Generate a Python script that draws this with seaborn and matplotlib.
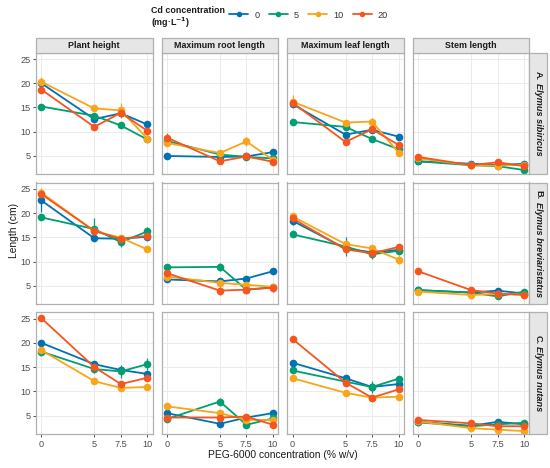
import numpy as np
import pandas as pd
import matplotlib
matplotlib.use('Agg')
import matplotlib.pyplot as plt
import seaborn as sns
from matplotlib.lines import Line2D
from matplotlib.patches import Rectangle

# PEG-6000 concentration (% w/v) and Cd levels (mg/L)
peg = [0, 5, 7.5, 10]
cd_levels = ['0', '5', '10', '20']
cd_colors = ['#0072B2', '#009E73', '#F9A51B', '#F4561E']
traits = ['Plant height', 'Maximum root length', 'Maximum leaf length', 'Stem length']
species_prefix = ['A.', 'B.', 'C.']
species_names = ['Elymus sibiricus', 'Elymus breviaristatus', 'Elymus nutans']

# each array: one row per Cd level (0, 5, 10, 20), one column per PEG level
sib_height = [[20.0, 12.6, 13.8, 11.5], [15.2, 13.3, 11.3, 8.4], [20.3, 14.8, 14.4, 8.6], [18.7, 11.0, 13.9, 10.2]]
sib_root = [[5.0, 4.8, 4.9, 5.8], [8.1, 5.3, 4.8, 4.5], [7.7, 5.6, 8.0, 4.2], [8.8, 3.9, 4.9, 3.8]]
sib_leaf = [[15.7, 9.4, 10.4, 9.0], [12.0, 11.0, 8.5, 6.4], [16.2, 11.9, 12.1, 5.7], [16.0, 7.9, 10.5, 7.3]]
sib_stem = [[3.9, 3.4, 3.1, 3.4], [3.9, 3.1, 2.9, 2.1], [4.5, 3.1, 3.0, 3.2], [4.8, 3.1, 3.7, 2.9]]

brev_height = [[22.6, 14.8, 14.7, 15.1], [19.1, 16.7, 14.0, 16.2], [24.2, 16.3, 14.9, 12.5], [23.9, 16.3, 14.7, 15.3]]
brev_root = [[6.3, 5.9, 6.5, 8.0], [8.8, 8.9, 4.2, 4.7], [6.9, 5.6, 5.2, 4.8], [7.6, 4.0, 4.2, 4.6]]
brev_leaf = [[18.4, 12.7, 11.9, 12.4], [15.6, 13.1, 11.5, 12.2], [19.3, 13.6, 12.7, 10.4], [18.9, 12.5, 11.7, 13.0]]
brev_stem = [[4.1, 3.6, 4.0, 3.4], [4.1, 3.6, 2.8, 3.8], [3.8, 3.1, 3.3, 3.2], [8.0, 4.1, 3.4, 3.1]]

nut_height = [[20.0, 15.6, 14.4, 13.6], [18.2, 14.6, 14.1, 15.6], [18.5, 12.1, 10.7, 10.9], [25.1, 15.0, 11.5, 12.8]]
nut_root = [[5.5, 3.3, 4.6, 5.5], [4.3, 7.9, 3.1, 4.4], [6.9, 5.5, 4.1, 4.1], [4.6, 4.6, 4.8, 3.1]]
nut_leaf = [[15.9, 12.7, 10.9, 11.5], [14.3, 12.0, 10.9, 12.6], [12.7, 9.7, 8.7, 8.9], [20.8, 11.8, 8.7, 10.4]]
nut_stem = [[3.7, 2.9, 3.7, 3.2], [3.6, 2.8, 3.2, 3.5], [3.8, 2.4, 2.1, 1.8], [4.1, 3.4, 2.8, 2.8]]

# standard errors, same layout
sib_height_se = [[0.3, 0.6, 0.5, 0.5], [0.4, 0.5, 0.3, 0.4], [1.0, 0.4, 1.6, 0.5], [0.4, 0.4, 0.8, 0.4]]
sib_root_se = [[0.2, 0.4, 0.8, 0.3], [0.4, 0.3, 0.3, 0.3], [0.6, 0.4, 1.0, 0.3], [1.0, 0.3, 0.5, 0.3]]
sib_leaf_se = [[0.4, 0.4, 0.6, 0.4], [0.5, 0.4, 0.4, 0.4], [1.4, 0.6, 0.7, 0.4], [0.5, 0.4, 0.8, 0.4]]
sib_stem_se = [[0.2, 0.2, 0.2, 0.3], [0.2, 0.2, 0.2, 0.2], [0.2, 0.2, 0.2, 0.2], [0.3, 0.2, 0.3, 0.3]]

brev_height_se = [[2.4, 0.6, 0.5, 0.4], [0.4, 2.3, 0.9, 1.0], [1.0, 0.5, 0.4, 0.4], [0.5, 0.5, 0.5, 0.4]]
brev_root_se = [[0.4, 0.3, 0.5, 0.4], [0.3, 0.8, 0.3, 0.3], [0.4, 0.5, 0.5, 0.5], [0.4, 0.8, 0.4, 0.8]]
brev_leaf_se = [[0.9, 0.5, 0.8, 0.4], [0.4, 2.0, 1.0, 0.5], [0.8, 0.5, 0.4, 1.0], [0.4, 0.5, 0.5, 0.4]]
brev_stem_se = [[0.2, 0.2, 0.3, 0.2], [0.2, 0.2, 0.2, 0.3], [0.2, 0.2, 0.2, 0.2], [0.3, 0.3, 0.2, 0.2]]

nut_height_se = [[0.6, 0.5, 0.5, 0.4], [0.5, 0.8, 1.4, 1.2], [1.2, 0.4, 0.4, 0.4], [0.3, 1.0, 0.5, 0.6]]
nut_root_se = [[0.3, 0.3, 0.3, 0.3], [0.3, 0.7, 0.3, 0.3], [0.3, 0.7, 0.4, 0.3], [0.3, 0.4, 0.4, 0.3]]
nut_leaf_se = [[0.5, 0.5, 0.5, 0.4], [0.4, 1.0, 1.2, 0.6], [0.4, 0.4, 0.4, 0.4], [0.3, 0.5, 0.4, 0.5]]
nut_stem_se = [[0.2, 0.2, 0.3, 0.2], [0.2, 0.2, 0.2, 0.2], [0.2, 0.2, 0.2, 0.2], [0.2, 0.2, 0.2, 0.2]]

panel_values = [[sib_height, sib_root, sib_leaf, sib_stem],
                [brev_height, brev_root, brev_leaf, brev_stem],
                [nut_height, nut_root, nut_leaf, nut_stem]]
panel_se = [[sib_height_se, sib_root_se, sib_leaf_se, sib_stem_se],
            [brev_height_se, brev_root_se, brev_leaf_se, brev_stem_se],
            [nut_height_se, nut_root_se, nut_leaf_se, nut_stem_se]]

rows = []
for sp, vals_row, se_row in zip(species_names, panel_values, panel_se):
    for tr, vals, ses in zip(traits, vals_row, se_row):
        for cd, v_s, e_s in zip(cd_levels, vals, ses):
            for p, v, e in zip(peg, v_s, e_s):
                rows.append({'species': sp, 'trait': tr, 'cd': cd, 'peg': p, 'length': v, 'se': e})
df = pd.DataFrame(rows)

sns.set_style('whitegrid')
plt.rcParams['font.family'] = ['Liberation Sans', 'DejaVu Sans']

W, H = 550, 468
fig = plt.figure(figsize=(W / 100, H / 100), dpi=100)
palette = dict(zip(cd_levels, cd_colors))

left0, pw, xstep = 36, 116.6, 125.6
top0, ph, ystep = 52.7, 121.7, 129.8
border = '#B0B0B0'
txt = '#1A1A1A'


def fig_rect(l, t, w, h):
    return [l / W, 1 - (t + h) / H, w / W, h / H]


for i, sp in enumerate(species_names):
    for j, tr in enumerate(traits):
        l = left0 + j * xstep
        t = top0 + i * ystep
        ax = fig.add_axes(fig_rect(l, t, pw, ph))
        sub = df[(df.species == sp) & (df.trait == tr)]
        for cd in cd_levels:
            g = sub[sub.cd == cd]
            ax.errorbar(g.peg, g.length, yerr=g.se, fmt='none', ecolor=palette[cd], elinewidth=0.9, capsize=0)
        sns.lineplot(data=sub, x='peg', y='length', hue='cd', hue_order=cd_levels, palette=palette,
                     marker='o', markersize=5.5, markeredgewidth=0, linewidth=1.3,
                     legend=False, errorbar=None, ax=ax)
        ax.set_xlim(-0.5, 10.5)
        ax.set_ylim(1.2, 26.3)
        ax.set_xticks(peg)
        ax.set_yticks([5, 10, 15, 20, 25])
        ax.set_xlabel('')
        ax.set_ylabel('')
        ax.grid(True, color='#EBEBEB', linewidth=0.7)
        for s in ax.spines.values():
            s.set_color(border)
            s.set_linewidth(0.9)
        ax.tick_params(length=2.5, width=0.6, color='#333333', labelcolor='#4D4D4D',
                       labelsize=6.6, pad=1.5, left=(j == 0), bottom=(i == 2),
                       labelleft=(j == 0), labelbottom=(i == 2))
        ax.set_xticklabels(['0', '5', '7.5', '10'])
        if i == 0:
            fig.patches.append(Rectangle(((l) / W, 1 - t / H), pw / W, 14.4 / H,
                                         transform=fig.transFigure, facecolor='#E6E6E6',
                                         edgecolor=border, linewidth=0.9))
            fig.text((l + pw / 2) / W, 1 - (t - 7.2) / H, tr, ha='center', va='center',
                     fontsize=6.4, weight='bold', color=txt)

# right strips with species names
strip_x = left0 + 3 * xstep + pw
strip_w = 18
labels = []
for i in range(3):
    t = top0 + i * ystep
    fig.patches.append(Rectangle((strip_x / W, 1 - (t + ph) / H), strip_w / W, ph / H,
                                 transform=fig.transFigure, facecolor='#E6E6E6',
                                 edgecolor=border, linewidth=0.9))
    xc = (strip_x + strip_w / 2) / W
    t1 = fig.text(xc, 0.5, species_prefix[i], rotation=-90, ha='center', va='top',
                  fontsize=6.6, weight='bold', color=txt)
    t2 = fig.text(xc, 0.5, species_names[i], rotation=-90, ha='center', va='top',
                  fontsize=6.6, weight='bold', style='italic', color=txt)
    labels.append((t1, t2, t + ph / 2))

fig.canvas.draw()
r = fig.canvas.get_renderer()
for t1, t2, yc in labels:
    h1 = t1.get_window_extent(r).height
    h2 = t2.get_window_extent(r).height
    gap = 2.5
    total = h1 + gap + h2
    top_px = yc - total / 2
    t1.set_y(1 - top_px / H)
    t2.set_y(1 - (top_px + h1 + gap) / H)

# axis titles
fig.text(14 / W, 1 - 230 / H, 'Length (cm)', rotation=90, ha='center', va='center',
         fontsize=7.4, color=txt)
fig.text(283 / W, 1 - 455 / H, 'PEG-6000 concentration (% w/v)', ha='center', va='center',
         fontsize=7.4, color=txt)

# legend
fig.text(151 / W, 1 - 18 / H, 'Cd concentration\n(mg·L$^{\\mathbf{-1}}$)', ha='left', va='center',
         fontsize=6.4, weight='bold', color=txt, linespacing=1.0)
handles = [Line2D([0], [0], color=c, marker='o', markersize=4, markeredgewidth=0, linewidth=1.3)
           for c in cd_colors]
fig.legend(handles, cd_levels, loc='center left', bbox_to_anchor=(229 / W, 1 - 15 / H), ncol=4,
           frameon=False, fontsize=6.6, handlelength=2.1, handletextpad=0.65, columnspacing=1.0,
           labelcolor='#333333', borderaxespad=0, borderpad=0)

fig.savefig('out.png', dpi=100)
